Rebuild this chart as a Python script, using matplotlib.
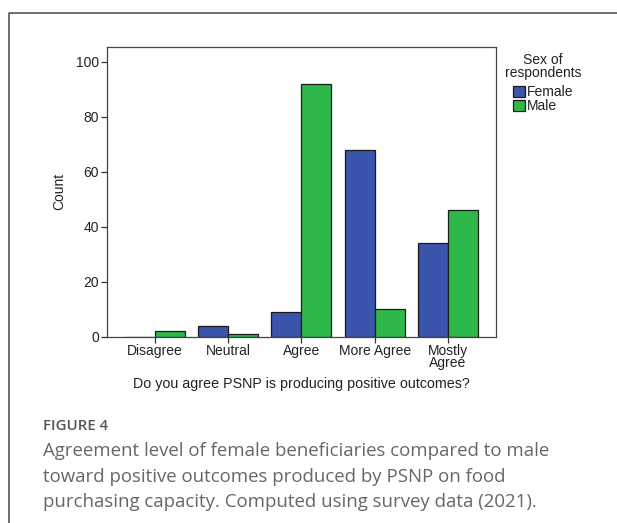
import matplotlib
matplotlib.use('Agg')
import matplotlib.pyplot as plt
import numpy as np
from matplotlib.lines import Line2D

# data
categories = ['Disagree', 'Neutral', 'Agree', 'More Agree', 'Mostly\nAgree']
female = [0, 4, 9, 68, 34]
male = [2, 1, 92, 10, 46]
yticks = [0, 20, 40, 60, 80, 100]

blue = '#3c55ac'
green = '#2eb84a'
txt = '#222222'

plt.rcParams['font.family'] = ['Liberation Sans', 'DejaVu Sans']

fig = plt.figure(figsize=(6.17, 5.23), dpi=100)
ax = fig.add_axes([0.173, 0.3562, 0.631, 0.5545])

x = np.arange(len(categories))
w = 0.41
ax.bar(x - w / 2, female, width=w, color=blue, edgecolor='#1a1a1a', linewidth=0.9, label='Female')
ax.bar(x + w / 2, male, width=w, color=green, edgecolor='#1a1a1a', linewidth=0.9, label='Male')

ax.set_xlim(-0.66, 4.66)
ax.set_ylim(0, 105.5)
ax.set_xticks(x)
ax.set_xticklabels(categories, fontsize=10, color=txt, linespacing=0.8)
ax.set_yticks(yticks)
ax.set_yticklabels([str(v) for v in yticks], fontsize=10, color=txt)
ax.tick_params(axis='both', length=4, width=0.9, color='#333333', pad=1.5)
for s in ax.spines.values():
    s.set_color('#444444')
    s.set_linewidth(0.9)

ax.set_ylabel('Count', fontsize=10, color=txt, labelpad=7)
ax.set_xlabel('Do you agree PSNP is producing positive outcomes?', fontsize=10.3,
              color=txt, labelpad=5)

# legend: title drawn as its own text, entries below it
ax.text(1.121, 0.98, 'Sex of\nrespondents', transform=ax.transAxes, ha='center', va='top',
        multialignment='center', fontsize=10, color=txt, linespacing=0.95)
leg = ax.legend(loc='upper center', bbox_to_anchor=(1.121, 0.868),
                frameon=False, fontsize=10, handlelength=0.85,
                handleheight=0.85, handletextpad=0.15, labelspacing=0.0, borderaxespad=0,
                borderpad=0)
for t in leg.get_texts():
    t.set_color(txt)

# outer frame of the figure panel
fig.add_artist(Line2D([9 / 617, 9 / 617, 1.0], [0.0, 1 - 13 / 523, 1 - 13 / 523],
                      transform=fig.transFigure, color='#555555', linewidth=1.2))

fig.text(43 / 617, 1 - 426 / 523, 'FIGURE 4', fontsize=10.8, color='#555555',
         family=['Open Sans', 'DejaVu Sans'], fontweight='semibold', va='center')
caption = ('Agreement level of female beneficiaries compared to male\n'
           'toward positive outcomes produced by PSNP on food\n'
           'purchasing capacity. Computed using survey data (2021).')
fig.text(43 / 617, 1 - 442 / 523, caption, fontsize=13.4, color='#666666',
         family=['Open Sans', 'DejaVu Sans'], va='top', linespacing=1.55)

fig.savefig('out.png', dpi=100)
